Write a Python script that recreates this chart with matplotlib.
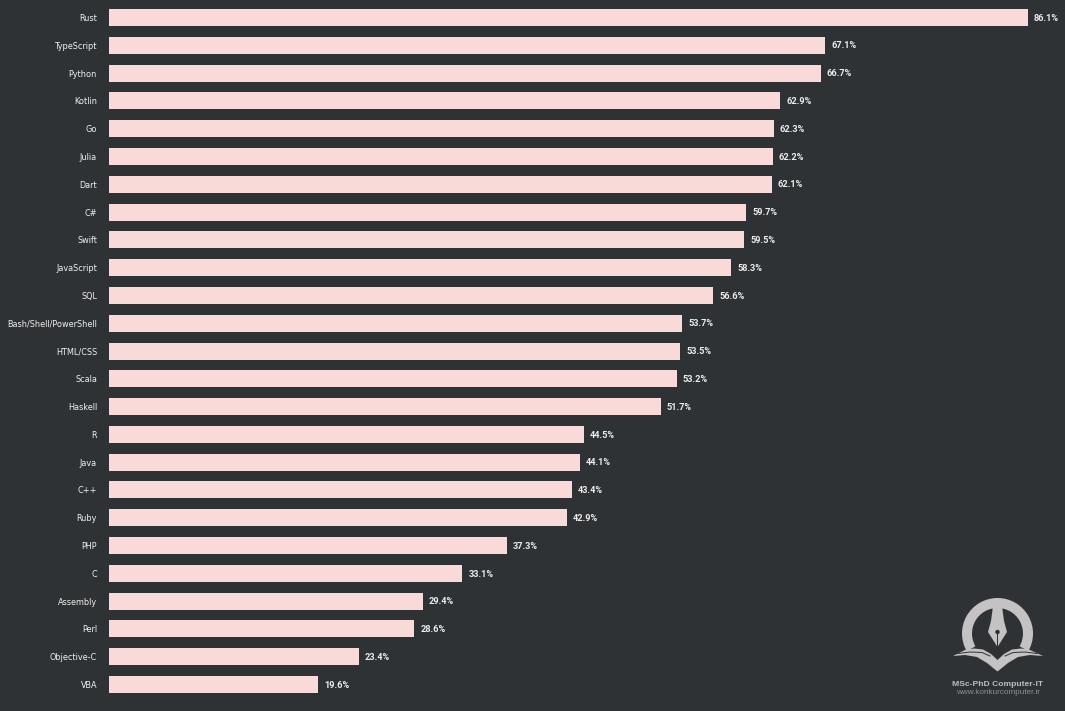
import matplotlib
matplotlib.use("Agg")
import matplotlib.pyplot as plt
from matplotlib.patches import Wedge, Polygon, Circle

languages = ["Rust", "TypeScript", "Python", "Kotlin", "Go", "Julia", "Dart", "C#", "Swift",
             "JavaScript", "SQL", "Bash/Shell/PowerShell", "HTML/CSS", "Scala", "Haskell", "R",
             "Java", "C++", "Ruby", "PHP", "C", "Assembly", "Perl", "Objective-C", "VBA"]
values = [86.1, 67.1, 66.7, 62.9, 62.3, 62.2, 62.1, 59.7, 59.5, 58.3, 56.6, 53.7, 53.5, 53.2,
          51.7, 44.5, 44.1, 43.4, 42.9, 37.3, 33.1, 29.4, 28.6, 23.4, 19.6]

BG = "#2F3235"
BAR = "#F9DAD8"
W, H = 1065, 711
fig = plt.figure(figsize=(W / 100, H / 100), dpi=100, facecolor=BG)

ppu = 919 / 86.1
step = 667 / 24
ax = fig.add_axes([109 / W, 0, (W - 109) / W, 1], facecolor=BG)
ax.set_xlim(0, (W - 109) / ppu)
ax.set_ylim((H - 17.5) / step, -17.5 / step)
ax.barh(range(len(values)), values, height=17 / step, color=BAR, edgecolor="none")
ax.set_yticks(range(len(values)), languages)
ax.tick_params(axis="y", length=0, pad=8.6, labelsize=5.85, labelcolor="#F0F0F0")
ax.tick_params(axis="x", bottom=False, labelbottom=False)
for s in ax.spines.values():
    s.set_visible(False)
for i, v in enumerate(values):
    ax.annotate(f"{v}%", (v, i), xytext=(4.3, -0.5), textcoords="offset points", va="center",
                ha="left", fontsize=6.6, fontweight="bold", color="#EDEDED", family="Roboto")

# Watermark logo, in pixel coordinates
lg = fig.add_axes([0, 0, 1, 1], facecolor="none")
lg.set_xlim(0, W)
lg.set_ylim(H, 0)
lg.axis("off")
LOGO = "#C4C2C2"
cx = 997.5
lg.add_patch(Wedge((cx, 633.5), 35.5, 150, 30, width=10, color=LOGO, lw=0))
lg.add_patch(Polygon([(992.5, 600), (1002.5, 600), (1002.5, 610), (1004, 621), (1007, 632),
                      (997.5, 647), (988, 632), (991, 621), (992.5, 610)], color=LOGO, lw=0))
lg.add_patch(Circle((cx, 632), 2.2, color=BG, lw=0))
lg.add_patch(Polygon([(cx - .6, 632), (cx + .6, 632), (cx + .6, 647), (cx - .6, 647)], color=BG, lw=0))
lg.add_patch(Polygon([(953, 656), (965, 650), (974, 648.5), (983, 649.5), (991, 654), (997.5, 660),
                      (1004, 654), (1012, 649.5), (1021, 648.5), (1030, 650), (1043, 656),
                      (1030, 655), (1018, 657), (1008, 663), (997.5, 671.5), (987, 663),
                      (977, 657), (965, 655)], color=LOGO, lw=0))
lg.plot([958, 970, 982, 990], [653.5, 652, 652.5, 656], color=BG, lw=0.7)
lg.plot([1037, 1025, 1013, 1005], [653.5, 652, 652.5, 656], color=BG, lw=0.7)
lg.text(cx + .5, 684, "MSc-PhD Computer-IT", ha="center", va="center", fontsize=6.1, color="#BDBDBD",
        fontweight="bold", family="Liberation Sans")
lg.text(cx + .5, 692.5, "www.konkurcomputer.ir", ha="center", va="center", fontsize=5.9, color="#8E8E8E",
        family="Liberation Sans")

fig.savefig("out.png", dpi=100, facecolor=BG)
